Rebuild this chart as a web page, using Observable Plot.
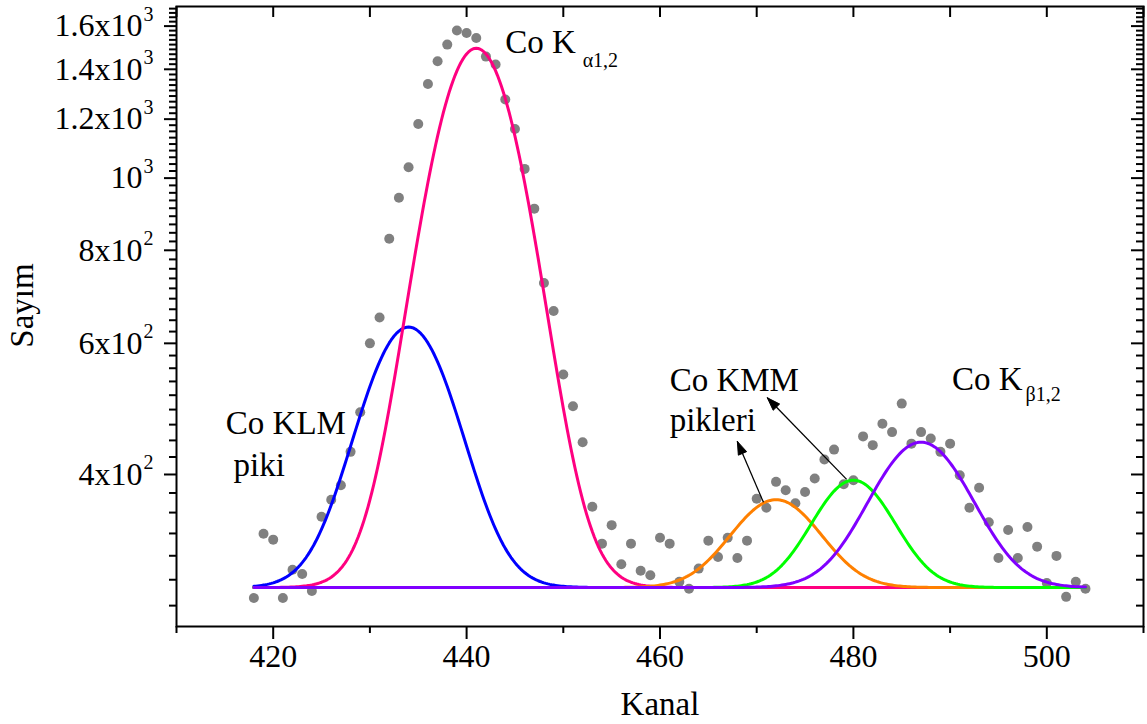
<!DOCTYPE html>
<html>
<head>
<meta charset="utf-8">
<script src="https://cdn.jsdelivr.net/npm/d3@7"></script>
<script src="https://cdn.jsdelivr.net/npm/@observablehq/plot@0.6"></script>
<style>
  html, body { margin: 0; padding: 0; background: #fff; }
  svg { display: block; }
</style>
</head>
<body>
<div id="chart"></div>
<script>
// ---------- data ----------
const channels = [418,419,420,421,422,423,424,425,426,427,428,429,430,431,432,433,434,435,436,437,438,439,440,441,442,443,444,445,446,447,448,449,450,451,452,453,454,455,456,457,458,459,460,461,462,463,464,465,466,467,468,469,470,471,472,473,474,475,476,477,478,479,480,481,482,483,484,485,486,487,488,489,490,491,492,493,494,495,496,497,498,499,500,501,502,503,504];
const counts = [273,333,327,273,298,294,279,351,370,387,429,485,600,650,829,941,1034,1182,1338,1435,1511,1578,1566,1542,1456,1421,1275,1164,1029,910,723,663,545,494,442,362,323,342,303,323,297,293,329,323,287,281,299,326,310,329,309,326,371,361,391,381,366,379,395,419,432,388,393,450,438,468,456,498,440,456,447,429,440,399,361,384,345,309,337,309,340,320,286,311,274,287,281];

// Gaussian fit components
const fitBaseline = 282;
const fitRange = [418, 504];
const peakNames = ["Co KLM", "Co Kα1,2", "Co KMM a", "Co KMM b", "Co Kβ1,2"];
const peakCenters = [434, 441, 472, 480, 487];
const peakAmplitudes = [349, 1212, 88, 111, 160];
const peakWidths = [4.7, 4.8, 4.4, 4.0, 4.9];
const peakColors = ["#0000ff", "#ff0080", "#ff8000", "#00ff00", "#8000ff"];

// axes
const xMajorTicks = [420, 440, 460, 480, 500];
const xMinorTicks = [410, 430, 450, 470, 490, 510];
const yMajorTicks = [400, 600, 800, 1000, 1200, 1400, 1600];
const yTickMantissa = ["4x10", "6x10", "8x10", "10", "1.2x10", "1.4x10", "1.6x10"];
const yTickExponent = ["2", "2", "2", "3", "3", "3", "3"];
const yMinorStep = 200 / 9;

// annotations
const labelTexts = ["Co K", "Co KLM", "piki", "Co KMM", "pikleri", "Co K"];
const labelChannels = [444.0, 415.1, 415.9, 461.0, 461.0, 490.2];
const labelCounts = [1471, 453, 398, 517, 457, 519];
const subTexts = ["α1,2", "β1,2"];
const subChannels = [452.0, 497.8];
const subCounts = [1409, 502];
const arrowFromChannel = [470.7, 479.3];
const arrowFromCount = [367, 394];
const arrowToChannel = [468.0, 471.1];
const arrowToCount = [443, 507];

// ---------- build ----------
const serif = '"Liberation Serif", "Times New Roman", Times, serif';
const points = channels.map((c, i) => ({channel: c, count: counts[i]}));
const curves = peakCenters.map((c, k) => {
  const out = [];
  for (let x = fitRange[0]; x <= fitRange[1] + 1e-9; x += 0.2) {
    out.push({channel: x, count: fitBaseline + peakAmplitudes[k] * Math.exp(-((x - c) ** 2) / (2 * peakWidths[k] ** 2)), peak: peakNames[k]});
  }
  return out;
});
const yMinorTicks = d3.range(-6, 59).map(k => 400 + k * yMinorStep);
const yMinorOnly = yMinorTicks.filter(v => !yMajorTicks.some(m => Math.abs(m - v) < 1));
const labels = labelTexts.map((t, i) => ({text: t, channel: labelChannels[i], count: labelCounts[i]}));
const subs = subTexts.map((t, i) => ({text: t, channel: subChannels[i], count: subCounts[i]}));
const arrows = arrowFromChannel.map((c, i) => ({x1: c, y1: arrowFromCount[i], x2: arrowToChannel[i], y2: arrowToCount[i]}));

const W = 1147, H = 724;
const M = {marginLeft: 176, marginRight: 4, marginTop: 6, marginBottom: 98};
const innerW = W - M.marginLeft - M.marginRight;
const innerH = H - M.marginTop - M.marginBottom;
const base = {
  width: W, height: H, ...M,
  x: {domain: [410, 510], label: null},
  y: {type: "log", domain: [250, 1700], label: null},
  style: {fontFamily: serif, color: "black", background: "white", overflow: "visible"}
};

// first pass: obtain the scales to build arrow heads in pixel space
const probe = Plot.plot({...base, marks: [Plot.frame()]});
const sx = probe.scale("x"), sy = probe.scale("y");
const heads = [];
arrows.forEach((a, i) => {
  const X1 = sx.apply(a.x1), Y1 = sy.apply(a.y1), X2 = sx.apply(a.x2), Y2 = sy.apply(a.y2);
  const L = Math.hypot(X2 - X1, Y2 - Y1), ux = (X2 - X1) / L, uy = (Y2 - Y1) / L;
  const hl = 13, hw = 4.5;
  const bx = X2 - hl * ux, by = Y2 - hl * uy;
  const pts = [[X2, Y2], [bx - hw * uy, by + hw * ux], [bx + hw * uy, by - hw * ux], [X2, Y2]];
  pts.forEach(([px, py]) => heads.push({id: i, channel: sx.invert(px), count: sy.invert(py)}));
});

const marks = [
  // data points
  Plot.dot(points, {x: "channel", y: "count", r: 5, fill: "#808080", stroke: "none"}),
  // fit curves
  ...curves.map((c, k) => Plot.line(c, {x: "channel", y: "count", stroke: peakColors[k], strokeWidth: 3})),
  // arrows
  Plot.link(arrows, {x1: "x1", y1: "y1", x2: "x2", y2: "y2", stroke: "black", strokeWidth: 1.3}),
  Plot.line(heads, {x: "channel", y: "count", z: "id", fill: "black", stroke: "black", strokeWidth: 1}),
  // annotations
  Plot.text(labels, {x: "channel", y: "count", text: "text", textAnchor: "start", lineAnchor: "bottom", fontSize: 33, fill: "black"}),
  Plot.text(subs, {x: "channel", y: "count", text: "text", textAnchor: "start", lineAnchor: "bottom", fontSize: 20, fill: "black"}),
  // frame
  Plot.frame({stroke: "black", strokeWidth: 2}),
  // bottom axis
  Plot.axisX({ticks: xMajorTicks, tickSize: 13, tickPadding: 5, fontSize: 32, strokeWidth: 2, label: null, tickFormat: d => String(d)}),
  Plot.axisX({ticks: xMinorTicks, tickSize: 7, strokeWidth: 2, label: null, tickFormat: () => ""}),
  // top inward ticks
  Plot.ruleX(xMajorTicks.concat(xMinorTicks), {x: d => d, insetBottom: innerH - 11, stroke: "black", strokeWidth: 2}),
  // left axis
  Plot.axisY({ticks: yMajorTicks, tickSize: 12, strokeWidth: 2, label: null, tickFormat: () => ""}),
  Plot.axisY({ticks: yMinorOnly, tickSize: 7, strokeWidth: 2, label: null, tickFormat: () => ""}),
  // right inward ticks
  Plot.ruleY(yMajorTicks, {y: d => d, insetLeft: innerW - 12, stroke: "black", strokeWidth: 2}),
  Plot.ruleY(yMinorOnly, {y: d => d, insetLeft: innerW - 7, stroke: "black", strokeWidth: 2}),
  // y tick labels with superscripts
  Plot.text(yMajorTicks, {y: d => d, frameAnchor: "left", text: (d, i) => yTickMantissa[i], textAnchor: "end", lineAnchor: "middle", dx: -34, fontSize: 32, fill: "black"}),
  Plot.text(yMajorTicks, {y: d => d, frameAnchor: "left", text: (d, i) => yTickExponent[i], textAnchor: "end", lineAnchor: "middle", dx: -23, dy: -12, fontSize: 20, fill: "black"}),
  // axis titles
  Plot.text(["Kanal"], {frameAnchor: "bottom", x: () => 460, text: d => d, textAnchor: "middle", lineAnchor: "middle", dy: 78, fontSize: 33, fill: "black"}),
  Plot.text(["Sayım"], {frameAnchor: "left", text: d => d, rotate: -90, textAnchor: "middle", lineAnchor: "middle", dx: -154, dy: -11, fontSize: 33, fill: "black"})
];

const chart = Plot.plot({...base, marks});
document.getElementById("chart").appendChild(chart);
</script>
</body>
</html>
